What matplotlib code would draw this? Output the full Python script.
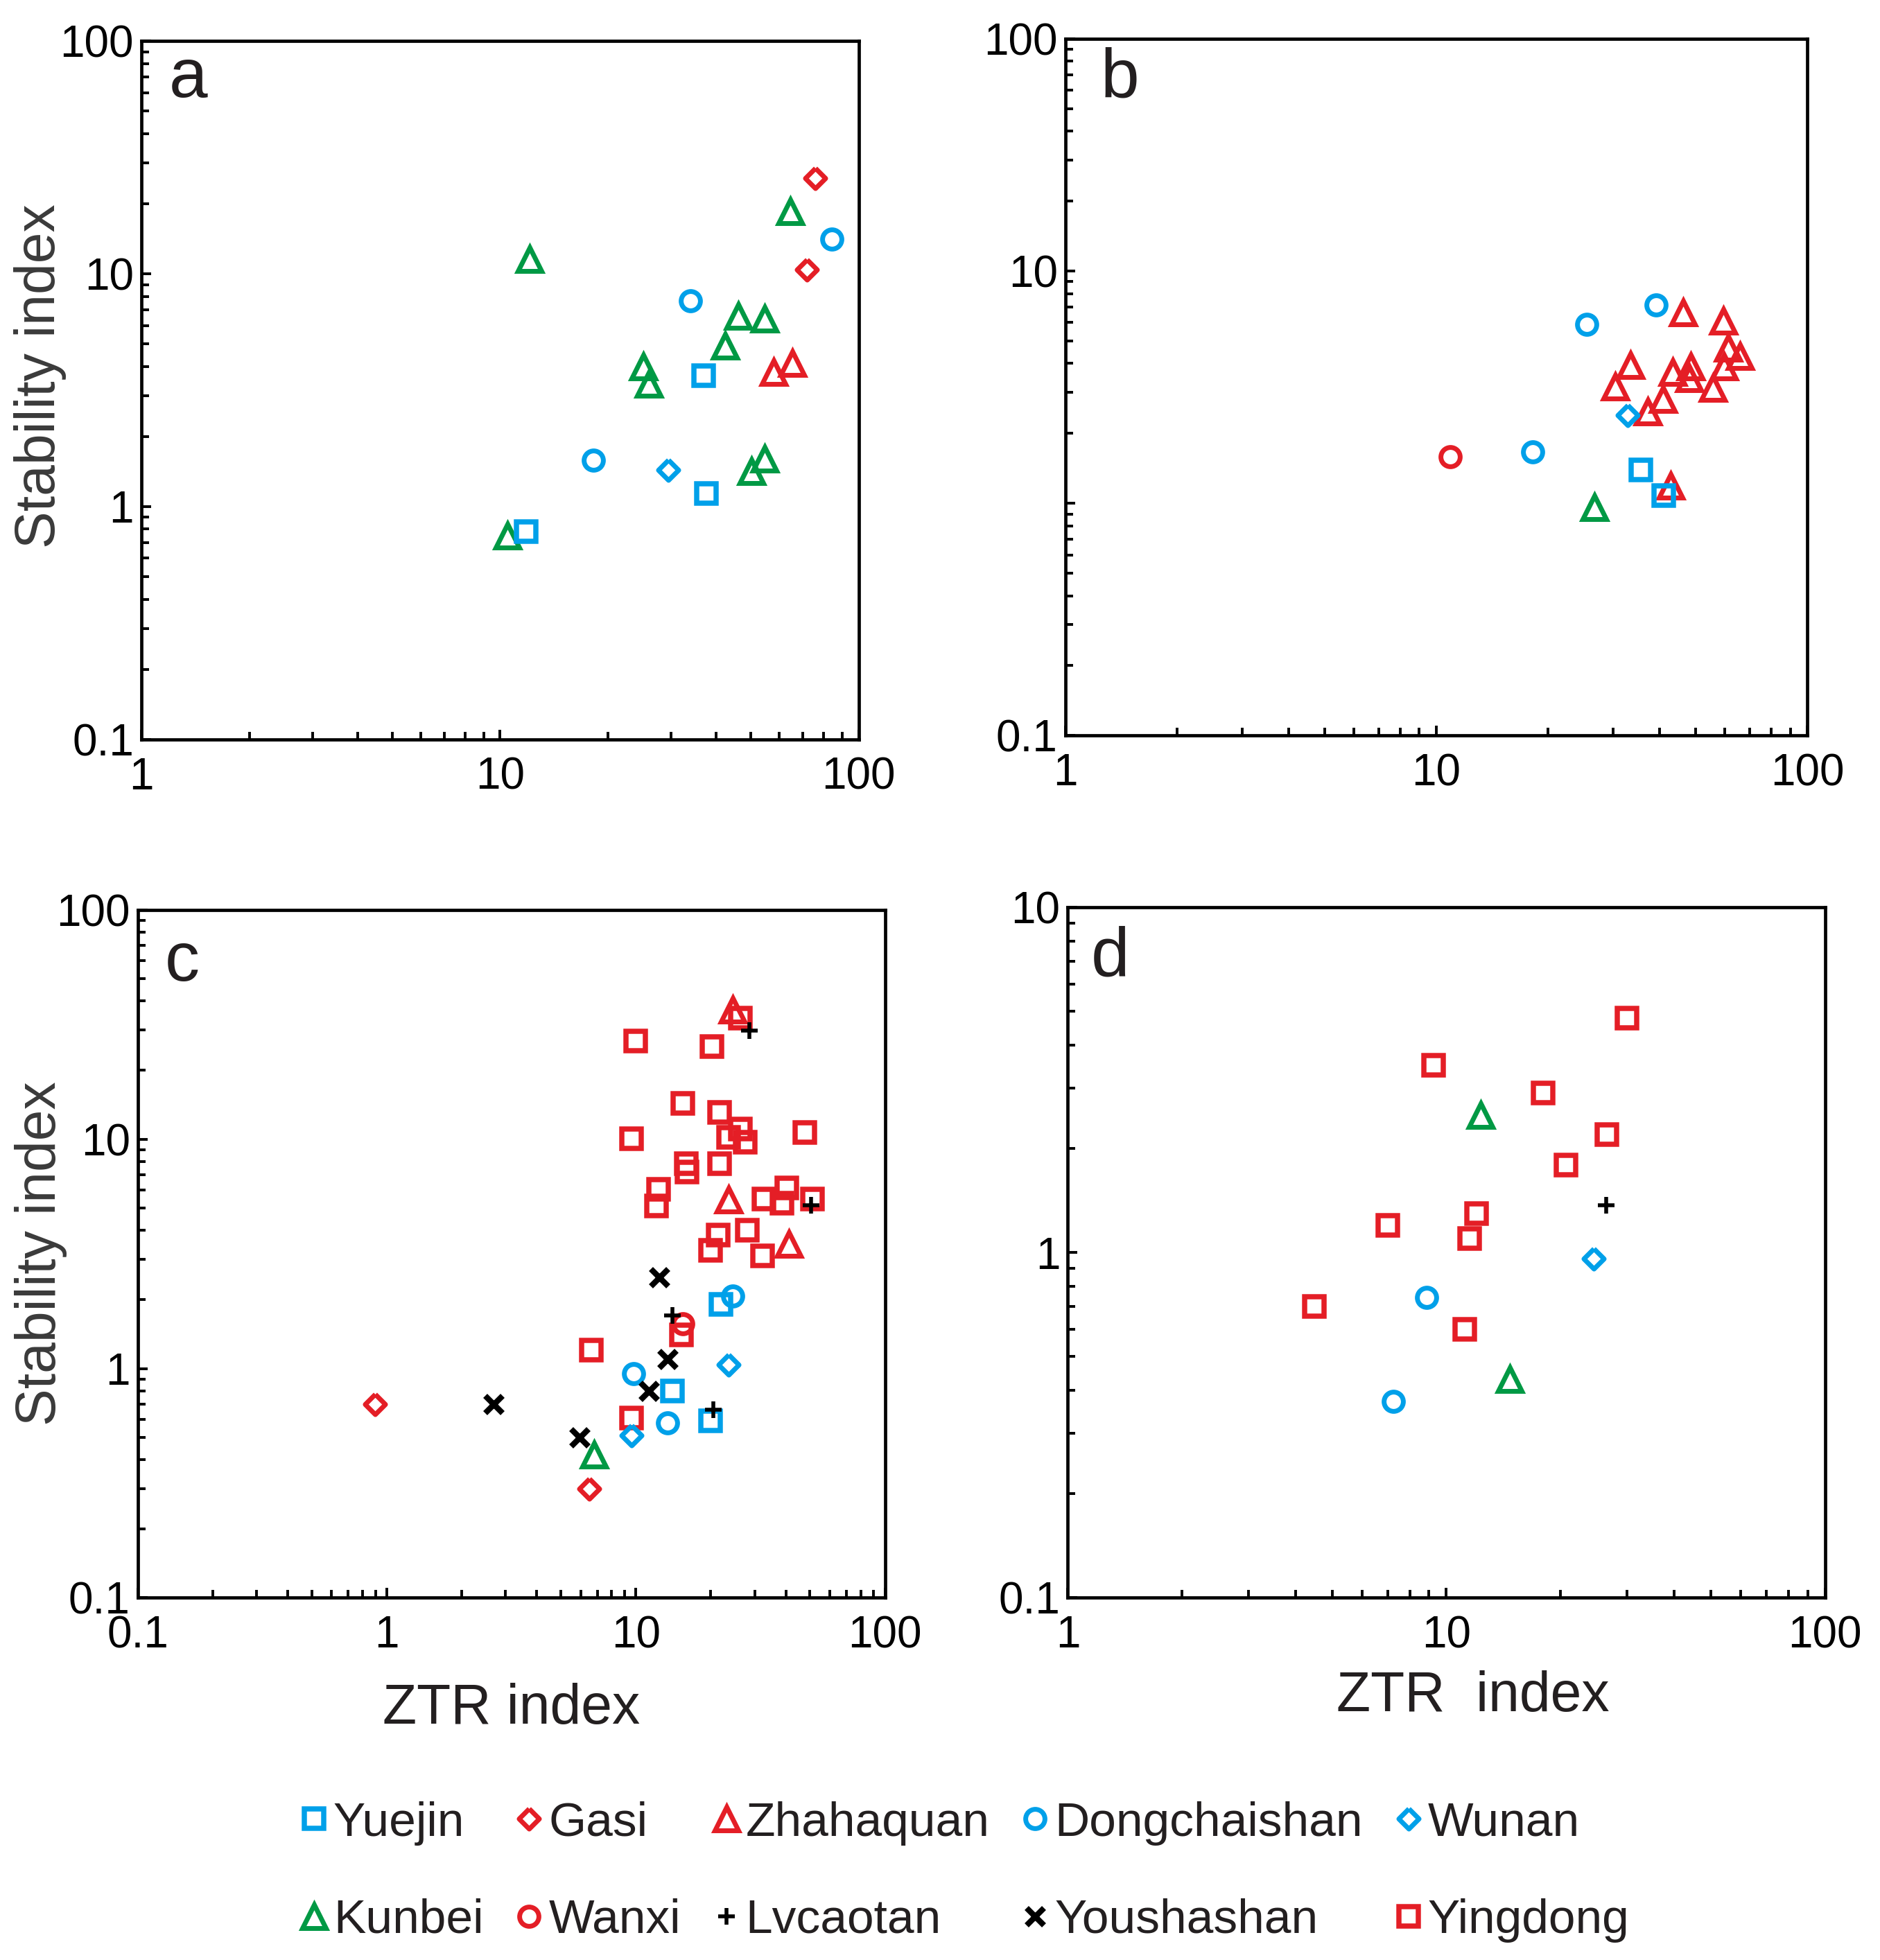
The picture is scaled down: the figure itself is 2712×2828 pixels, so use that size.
import matplotlib
matplotlib.use("Agg")
import matplotlib.pyplot as plt
from matplotlib.lines import Line2D

plt.rcParams['font.family'] = ['Liberation Sans', 'DejaVu Sans']

# ---- panel a ----
a_yuejin_x = [36.9, 37.6, 11.8]
a_yuejin_y = [3.66, 1.14, 0.78]
a_gasi_x = [75.7, 71.8]
a_gasi_y = [25.8, 10.4]
a_zhahaquan_x = [58.0, 65.4]
a_zhahaquan_y = [3.78, 4.13]
a_dongchaishan_x = [33.9, 18.2, 84.4]
a_dongchaishan_y = [7.65, 1.58, 14.1]
a_wunan_x = [29.5]
a_wunan_y = [1.44]
a_kunbei_x = [12.1, 64.6, 46.2, 54.7, 42.4, 25.1, 26.0, 50.2, 54.7, 10.5]
a_kunbei_y = [11.6, 18.5, 6.6, 6.4, 4.9, 4.0, 3.37, 1.42, 1.60, 0.75]

# ---- panel b ----
b_yuejin_x = [35.6, 41.1]
b_yuejin_y = [1.39, 1.08]
b_zhahaquan_x = [46.3, 59.3, 61.2, 66.0, 59.7, 55.6, 48.6, 48.2, 43.4, 33.4,
                 30.4, 40.8, 37.1, 42.9]
b_zhahaquan_y = [6.62, 6.12, 4.66, 4.31, 3.88, 3.14, 3.88, 3.45, 3.68, 3.92,
                 3.18, 2.80, 2.48, 1.19]
b_dongchaishan_x = [25.4, 39.1, 18.2]
b_dongchaishan_y = [5.9, 7.13, 1.66]
b_wunan_x = [32.8]
b_wunan_y = [2.39]
b_kunbei_x = [26.7]
b_kunbei_y = [0.96]
b_wanxi_x = [10.9]
b_wanxi_y = [1.59]

# ---- panel c ----
c_yingdong_x = [9.95, 20.2, 26.2, 15.4, 21.7, 26.2, 23.5, 27.4, 9.62, 47.7,
                15.9, 16.0, 21.7, 12.3, 12.1, 32.7, 40.4, 38.6, 51.3, 28.1,
                21.4, 20.0, 32.3, 15.2, 6.63, 9.62]
c_yingdong_y = [26.8, 25.3, 33.8, 14.3, 13.1, 11.1, 10.2, 9.68, 10.05, 10.7,
                7.83, 7.2, 7.83, 6.03, 5.1, 5.48, 6.13, 5.27, 5.48, 4.02,
                3.82, 3.27, 3.09, 1.40, 1.2, 0.61]
c_wanxi_x = [15.4]
c_wanxi_y = [1.57]
c_zhahaquan_x = [24.5, 23.5, 41.1]
c_zhahaquan_y = [36.7, 5.45, 3.49]
c_lvcaotan_x = [28.6, 50.4, 14.0, 20.4]
c_lvcaotan_y = [29.7, 5.16, 1.70, 0.66]
c_youshashan_x = [12.4, 13.4, 11.3, 2.69, 5.93]
c_youshashan_y = [2.50, 1.10, 0.80, 0.70, 0.50]
c_dongchaishan_x = [24.5, 9.78, 13.4]
c_dongchaishan_y = [2.07, 0.95, 0.58]
c_yuejin_x = [21.9, 14.0, 20.0]
c_yuejin_y = [1.91, 0.80, 0.59]
c_wunan_x = [23.5, 9.62]
c_wunan_y = [1.04, 0.51]
c_gasi_x = [0.895, 6.48]
c_gasi_y = [0.70, 0.30]
c_kunbei_x = [6.81]
c_kunbei_y = [0.42]

# ---- panel d ----
d_yingdong_x = [30.0, 9.26, 18.0, 26.5, 20.7, 12.0, 7.01, 11.5, 4.47, 11.2]
d_yingdong_y = [4.77, 3.49, 2.90, 2.20, 1.79, 1.30, 1.20, 1.10, 0.70, 0.60]
d_kunbei_x = [12.3, 14.7]
d_kunbei_y = [2.50, 0.43]
d_lvcaotan_x = [26.4]
d_lvcaotan_y = [1.37]
d_wunan_x = [24.5]
d_wunan_y = [0.96]
d_dongchaishan_x = [8.86, 7.24]
d_dongchaishan_y = [0.74, 0.37]

BLUE = '#00a0e9'
RED = '#e41e26'
GREEN = '#009944'
DARK = '#231f20'

diamond = [(0, 1), (1, 0), (0, -1), (-1, 0), (0, 1)]

# marker, colour, size, edge width
styles = {
    'Yuejin': ('s', BLUE, 10, 2.7),
    'Gasi': (diamond, RED, 10.5, 2.5),
    'Zhahaquan': ('^', RED, 12, 2.5),
    'Dongchaishan': ('o', BLUE, 10, 2.5),
    'Wunan': (diamond, BLUE, 10.5, 2.5),
    'Kunbei': ('^', GREEN, 12, 2.5),
    'Wanxi': ('o', RED, 10, 2.5),
    'Lvcaotan': ('+', 'black', 8.5, 2.0),
    'Youshashan': ('x', 'black', 9, 3.0),
    'Yingdong': ('s', RED, 10, 2.7),
}

panels = {
    'a': [('Kunbei', a_kunbei_x, a_kunbei_y), ('Yuejin', a_yuejin_x, a_yuejin_y),
          ('Dongchaishan', a_dongchaishan_x, a_dongchaishan_y),
          ('Wunan', a_wunan_x, a_wunan_y), ('Gasi', a_gasi_x, a_gasi_y),
          ('Zhahaquan', a_zhahaquan_x, a_zhahaquan_y)],
    'b': [('Zhahaquan', b_zhahaquan_x, b_zhahaquan_y),
          ('Dongchaishan', b_dongchaishan_x, b_dongchaishan_y),
          ('Wunan', b_wunan_x, b_wunan_y), ('Yuejin', b_yuejin_x, b_yuejin_y),
          ('Kunbei', b_kunbei_x, b_kunbei_y), ('Wanxi', b_wanxi_x, b_wanxi_y)],
    'c': [('Yingdong', c_yingdong_x, c_yingdong_y), ('Wanxi', c_wanxi_x, c_wanxi_y),
          ('Zhahaquan', c_zhahaquan_x, c_zhahaquan_y),
          ('Dongchaishan', c_dongchaishan_x, c_dongchaishan_y),
          ('Yuejin', c_yuejin_x, c_yuejin_y), ('Wunan', c_wunan_x, c_wunan_y),
          ('Gasi', c_gasi_x, c_gasi_y), ('Kunbei', c_kunbei_x, c_kunbei_y),
          ('Youshashan', c_youshashan_x, c_youshashan_y),
          ('Lvcaotan', c_lvcaotan_x, c_lvcaotan_y)],
    'd': [('Yingdong', d_yingdong_x, d_yingdong_y), ('Kunbei', d_kunbei_x, d_kunbei_y),
          ('Dongchaishan', d_dongchaishan_x, d_dongchaishan_y),
          ('Wunan', d_wunan_x, d_wunan_y), ('Lvcaotan', d_lvcaotan_x, d_lvcaotan_y)],
}

# axis ranges and tick labels per panel
xlims = {'a': (1, 100), 'b': (1, 100), 'c': (0.1, 100), 'd': (1, 100)}
ylims = {'a': (0.1, 100), 'b': (0.1, 100), 'c': (0.1, 100), 'd': (0.1, 10)}
xticklabels = {'a': ['1', '10', '100'], 'b': ['1', '10', '100'],
               'c': ['0.1', '1', '10', '100'], 'd': ['1', '10', '100']}
yticks = {'a': [0.1, 1, 10, 100], 'b': [0.1, 1, 10, 100],
          'c': [0.1, 1, 10, 100], 'd': [0.1, 1, 10]}
yticklabels = {'a': ['0.1', '1', '10', '100'], 'b': ['0.1', '', '10', '100'],
               'c': ['0.1', '1', '10', '100'], 'd': ['0.1', '1', '10']}

positions = {
    'a': [0.0753, 0.6228, 0.3814, 0.3562],
    'b': [0.5667, 0.6247, 0.3946, 0.3555],
    'c': [0.0733, 0.1848, 0.3974, 0.3510],
    'd': [0.5680, 0.1848, 0.4027, 0.3522],
}
letter_pos = {'a': (0.065, 0.946), 'b': (0.073, 0.942),
              'c': (0.059, 0.923), 'd': (0.056, 0.927)}

fig = plt.figure(figsize=(13.56, 14.14), dpi=200)

for key in ['a', 'b', 'c', 'd']:
    ax = fig.add_axes(positions[key])
    for name, xs, ys in panels[key]:
        m, col, ms, mew = styles[name]
        ax.plot(xs, ys, linestyle='none', marker=m, markersize=ms,
                markerfacecolor='none', markeredgecolor=col, markeredgewidth=mew)
    ax.set_xscale('log')
    ax.set_yscale('log')
    ax.set_xlim(*xlims[key])
    ax.set_ylim(*ylims[key])
    ax.set_xticks([float(t) for t in xticklabels[key]])
    ax.set_xticklabels(xticklabels[key])
    ax.set_yticks(yticks[key])
    ax.set_yticklabels(yticklabels[key])
    ax.xaxis.set_minor_formatter(matplotlib.ticker.NullFormatter())
    ax.yaxis.set_minor_formatter(matplotlib.ticker.NullFormatter())
    ax.tick_params(which='both', direction='in', top=False, right=False,
                   width=1.4, labelsize=23)
    ax.tick_params(which='major', length=5)
    ax.tick_params(which='minor', length=4)
    ax.tick_params(axis='x', pad=9)
    ax.tick_params(axis='y', pad=4)
    for sp in ax.spines.values():
        sp.set_linewidth(1.7)
    ax.text(letter_pos[key][0], letter_pos[key][1], key, transform=ax.transAxes,
            fontsize=36, color=DARK, ha='center', va='center')

    if key in ('a', 'c'):
        ax.set_ylabel('Stability index', fontsize=29, color='#3a3a3a')
        ax.yaxis.set_label_coords(-0.105 if key == 'a' else -0.094,
                                  0.52 if key == 'a' else 0.5)
    if key == 'c':
        ax.set_xlabel('ZTR index', fontsize=29, color=DARK)
        ax.xaxis.set_label_coords(0.5, -0.124)
    if key == 'd':
        ax.set_xlabel('ZTR  index', fontsize=29, color=DARK)
        ax.xaxis.set_label_coords(0.535, -0.105)

# legend, filled column by column
legend_order = ['Yuejin', 'Kunbei', 'Gasi', 'Wanxi', 'Zhahaquan', 'Lvcaotan',
                'Dongchaishan', 'Youshashan', 'Wunan', 'Yingdong']
handles = []
for name in legend_order:
    m, col, ms, mew = styles[name]
    handles.append(Line2D([], [], linestyle='none', marker=m, markersize=ms,
                          markerfacecolor='none', markeredgecolor=col,
                          markeredgewidth=mew))
leg = fig.legend(handles, legend_order, ncol=5, loc='center',
                 bbox_to_anchor=(0.513, 0.045), frameon=False, fontsize=25,
                 handlelength=0.6, handletextpad=0.1, columnspacing=0.65,
                 labelspacing=1.1)
for t in leg.get_texts():
    t.set_color(DARK)

fig.savefig('out.png', dpi=200, facecolor='white')
